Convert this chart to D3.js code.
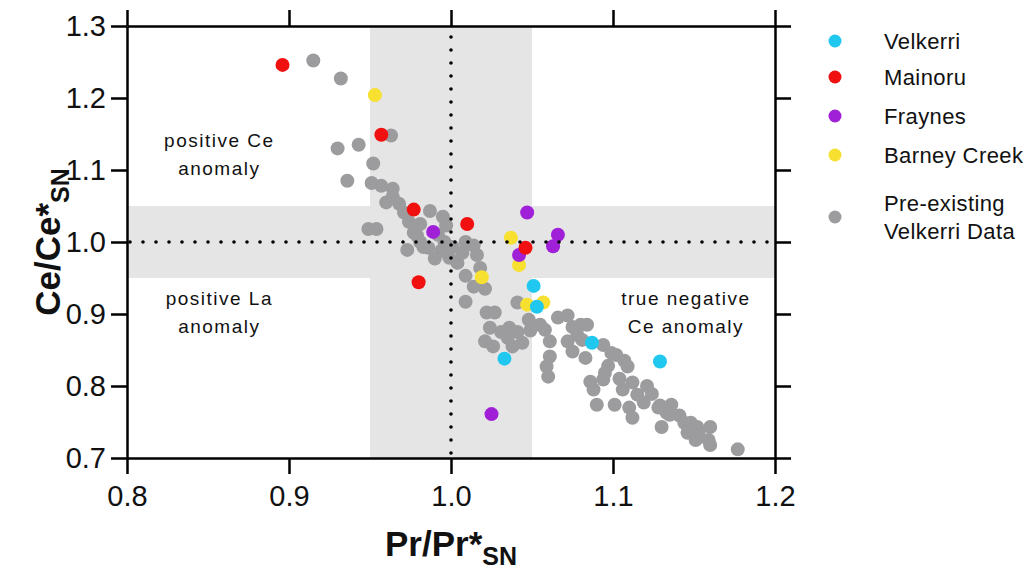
<!DOCTYPE html>
<html>
<head>
<meta charset="utf-8">
<script src="https://cdn.jsdelivr.net/npm/d3@7"></script>
<style>
  html, body { margin: 0; padding: 0; background: #fff; }
  svg { display: block; font-family: "Liberation Sans", Arial, sans-serif; }
  .axis path, .axis line { stroke: #000; stroke-width: 2.5; }
  .axis text { font-size: 29px; fill: #111; }
  .note { font-size: 19px; letter-spacing: 1.5px; fill: #111; }
  .legend text { font-size: 22px; letter-spacing: 0.4px; fill: #111; }
</style>
</head>
<body>
<div id="chart"></div>
<script>
// tick values
const xTicks = [0.8, 0.9, 1.0, 1.1, 1.2]
const yTicks = [0.7, 0.8, 0.9, 1.0, 1.1, 1.2, 1.3]

// series, [Pr/Pr*, Ce/Ce*]
const velkerri = [
  [1.051, 0.939], [1.053, 0.910], [1.033, 0.838], [1.087, 0.860], [1.129, 0.834]
]
const mainoru = [
  [0.896, 1.246], [0.957, 1.149], [0.977, 1.045], [1.010, 1.025], [0.980, 0.944], [1.046, 0.992]
]
const fraynes = [
  [1.047, 1.041], [0.989, 1.014], [1.066, 1.010], [1.063, 0.994], [1.042, 0.982], [1.025, 0.761]
]
const barneyCreek = [
  [0.953, 1.204], [1.037, 1.006], [1.042, 0.968], [1.019, 0.951], [1.047, 0.913], [1.057, 0.916]
]
const preExisting = [
  [0.915, 1.252], [0.932, 1.227], [0.963, 1.148], [0.930, 1.130], [0.943, 1.135],
  [0.952, 1.109], [0.936, 1.085], [0.951, 1.082], [0.957, 1.078], [0.964, 1.074],
  [0.964, 1.063], [0.960, 1.055], [0.968, 1.053], [0.987, 1.043], [0.995, 1.035],
  [0.974, 1.028], [0.981, 1.025], [0.949, 1.018], [0.954, 1.018], [0.977, 1.013],
  [0.981, 1.000], [0.973, 0.989], [0.983, 0.993], [0.992, 1.010], [0.996, 1.000],
  [1.001, 0.993], [0.994, 0.988], [0.990, 0.977], [0.999, 0.978], [1.004, 0.971],
  [1.007, 0.985], [1.009, 1.000], [1.014, 0.995], [1.016, 0.982], [0.971, 1.041],
  [0.979, 1.009], [0.986, 0.992], [0.997, 1.023], [1.009, 0.953], [1.018, 0.964],
  [1.014, 0.938], [1.021, 0.935], [1.009, 0.917], [1.041, 0.916], [1.022, 0.902],
  [1.027, 0.902], [1.048, 0.892], [1.024, 0.881], [1.031, 0.875], [1.036, 0.881],
  [1.041, 0.875], [1.049, 0.877], [1.055, 0.885], [1.058, 0.878], [1.066, 0.895],
  [1.072, 0.898], [1.075, 0.882], [1.021, 0.862], [1.026, 0.855], [1.035, 0.867],
  [1.038, 0.855], [1.044, 0.860], [1.061, 0.862], [1.072, 0.862], [1.075, 0.848],
  [1.061, 0.841], [1.059, 0.827], [1.060, 0.813], [1.080, 0.885], [1.084, 0.885],
  [1.078, 0.871], [1.083, 0.839], [1.081, 0.864], [1.094, 0.857], [1.099, 0.846],
  [1.102, 0.843], [1.107, 0.835], [1.109, 0.827], [1.097, 0.828], [1.095, 0.818],
  [1.086, 0.806], [1.094, 0.809], [1.104, 0.810], [1.112, 0.805], [1.121, 0.800],
  [1.088, 0.795], [1.106, 0.795], [1.115, 0.788], [1.124, 0.789], [1.090, 0.774],
  [1.101, 0.774], [1.110, 0.770], [1.119, 0.777], [1.129, 0.773], [1.135, 0.767],
  [1.112, 0.756], [1.133, 0.763], [1.141, 0.759], [1.130, 0.743], [1.148, 0.749],
  [1.152, 0.743], [1.146, 0.735], [1.160, 0.743], [1.159, 0.725], [1.160, 0.718],
  [1.151, 0.725], [1.177, 0.712], [1.136, 0.774], [1.153, 0.737], [1.144, 0.749],
  [1.128, 0.770], [1.135, 0.760]
]

const legendNames = ['Velkerri', 'Mainoru', 'Fraynes', 'Barney Creek', 'Pre-existing|Velkerri Data']
const colors = ['#20c8f0', '#f01010', '#a020d8', '#f8e030', '#9c9c9e']

// shaded "normal" bands
const bandX = [0.95, 1.05]
const bandY = [0.95, 1.05]

const notes = [
  { x: 0.857, y: 1.132, lines: ['positive Ce', 'anomaly'] },
  { x: 0.857, y: 0.912, lines: ['positive La', 'anomaly'] },
  { x: 1.145, y: 0.912, lines: ['true negative', 'Ce anomaly'] }
]

const W = 1031
const H = 572
const margin = { top: 26, right: 256, bottom: 114, left: 127 }
const width = W - margin.left - margin.right
const height = H - margin.top - margin.bottom

const x = d3.scaleLinear().domain([0.8, 1.2]).range([0, width])
const y = d3.scaleLinear().domain([0.7, 1.3]).range([height, 0])

const svg = d3.select('#chart').append('svg')
  .attr('width', W)
  .attr('height', H)

const g = svg.append('g')
  .attr('transform', 'translate(' + margin.left + ',' + margin.top + ')')

// bands
g.append('rect')
  .attr('x', 0)
  .attr('y', y(bandY[1]))
  .attr('width', width)
  .attr('height', y(bandY[0]) - y(bandY[1]))
  .attr('fill', '#e5e5e5')
g.append('rect')
  .attr('x', x(bandX[0]))
  .attr('y', 0)
  .attr('width', x(bandX[1]) - x(bandX[0]))
  .attr('height', height)
  .attr('fill', '#e5e5e5')

// notes
notes.forEach(n => {
  const t = g.append('text')
    .attr('class', 'note')
    .attr('text-anchor', 'middle')
    .attr('x', x(n.x))
    .attr('y', y(n.y))
  n.lines.forEach((l, i) => {
    t.append('tspan')
      .attr('x', x(n.x))
      .attr('dy', i === 0 ? '0' : '1.45em')
      .text(l)
  })
})

// points
const series = [preExisting, barneyCreek, fraynes, mainoru, velkerri]
const seriesColor = [colors[4], colors[3], colors[2], colors[1], colors[0]]
series.forEach((s, i) => {
  g.append('g').selectAll('circle')
    .data(s)
    .enter()
    .append('circle')
    .attr('cx', d => x(d[0]))
    .attr('cy', d => y(d[1]))
    .attr('r', 7)
    .attr('fill', seriesColor[i])
})

// dotted reference lines
g.append('line')
  .attr('x1', x(1.0)).attr('x2', x(1.0))
  .attr('y1', 11).attr('y2', height)
  .attr('stroke', '#000')
  .attr('stroke-width', 3.6)
  .attr('stroke-linecap', 'round')
  .attr('stroke-dasharray', '0 13')
g.append('line')
  .attr('x1', 3).attr('x2', width)
  .attr('y1', y(1.0)).attr('y2', y(1.0))
  .attr('stroke', '#000')
  .attr('stroke-width', 3.6)
  .attr('stroke-linecap', 'round')
  .attr('stroke-dasharray', '0 13')

// axes
const fmt = d3.format('.1f')
g.append('g').attr('class', 'axis')
  .attr('transform', 'translate(0,' + height + ')')
  .call(d3.axisBottom(x).tickValues(xTicks).tickSize(16).tickSizeOuter(0).tickPadding(11).tickFormat(fmt))
g.append('g').attr('class', 'axis')
  .call(d3.axisLeft(y).tickValues(yTicks).tickSize(16).tickSizeOuter(0).tickPadding(5).tickFormat(fmt))
g.append('g').attr('class', 'axis')
  .call(d3.axisTop(x).tickValues(xTicks).tickSize(16).tickSizeOuter(0).tickFormat(''))
g.append('g').attr('class', 'axis')
  .attr('transform', 'translate(' + width + ',0)')
  .call(d3.axisRight(y).tickValues(yTicks).tickSize(16).tickSizeOuter(0).tickFormat(''))

// axis titles
const xt = svg.append('text')
  .attr('x', margin.left + x(1.0))
  .attr('y', 556)
  .attr('text-anchor', 'middle')
  .attr('font-weight', 'bold')
  .attr('font-size', 35)
  .attr('fill', '#111')
xt.append('tspan').text('Pr/Pr*')
xt.append('tspan').attr('font-size', 25).attr('dy', 9).text('SN')

const yt = svg.append('text')
  .attr('transform', 'translate(60,' + (margin.top + y(1.0)) + ') rotate(-90)')
  .attr('text-anchor', 'middle')
  .attr('font-weight', 'bold')
  .attr('font-size', 35)
  .attr('fill', '#111')
yt.append('tspan').text('Ce/Ce*')
yt.append('tspan').attr('font-size', 25).attr('dy', 9).text('SN')

// legend
const legendY = [41, 77, 116, 155, 217]
const legend = svg.append('g').attr('class', 'legend')
legendNames.forEach((name, i) => {
  legend.append('circle')
    .attr('cx', 835)
    .attr('cy', legendY[i])
    .attr('r', 6.5)
    .attr('fill', colors[i])
  const lines = name.split('|')
  const t = legend.append('text')
    .attr('x', 884)
    .attr('y', legendY[i] - (lines.length - 1) * 14)
    .attr('dy', '0.36em')
  lines.forEach((l, j) => {
    t.append('tspan')
      .attr('x', 884)
      .attr('dy', j === 0 ? '0.36em' : 28)
      .text(l)
  })
})
</script>
</body>
</html>
